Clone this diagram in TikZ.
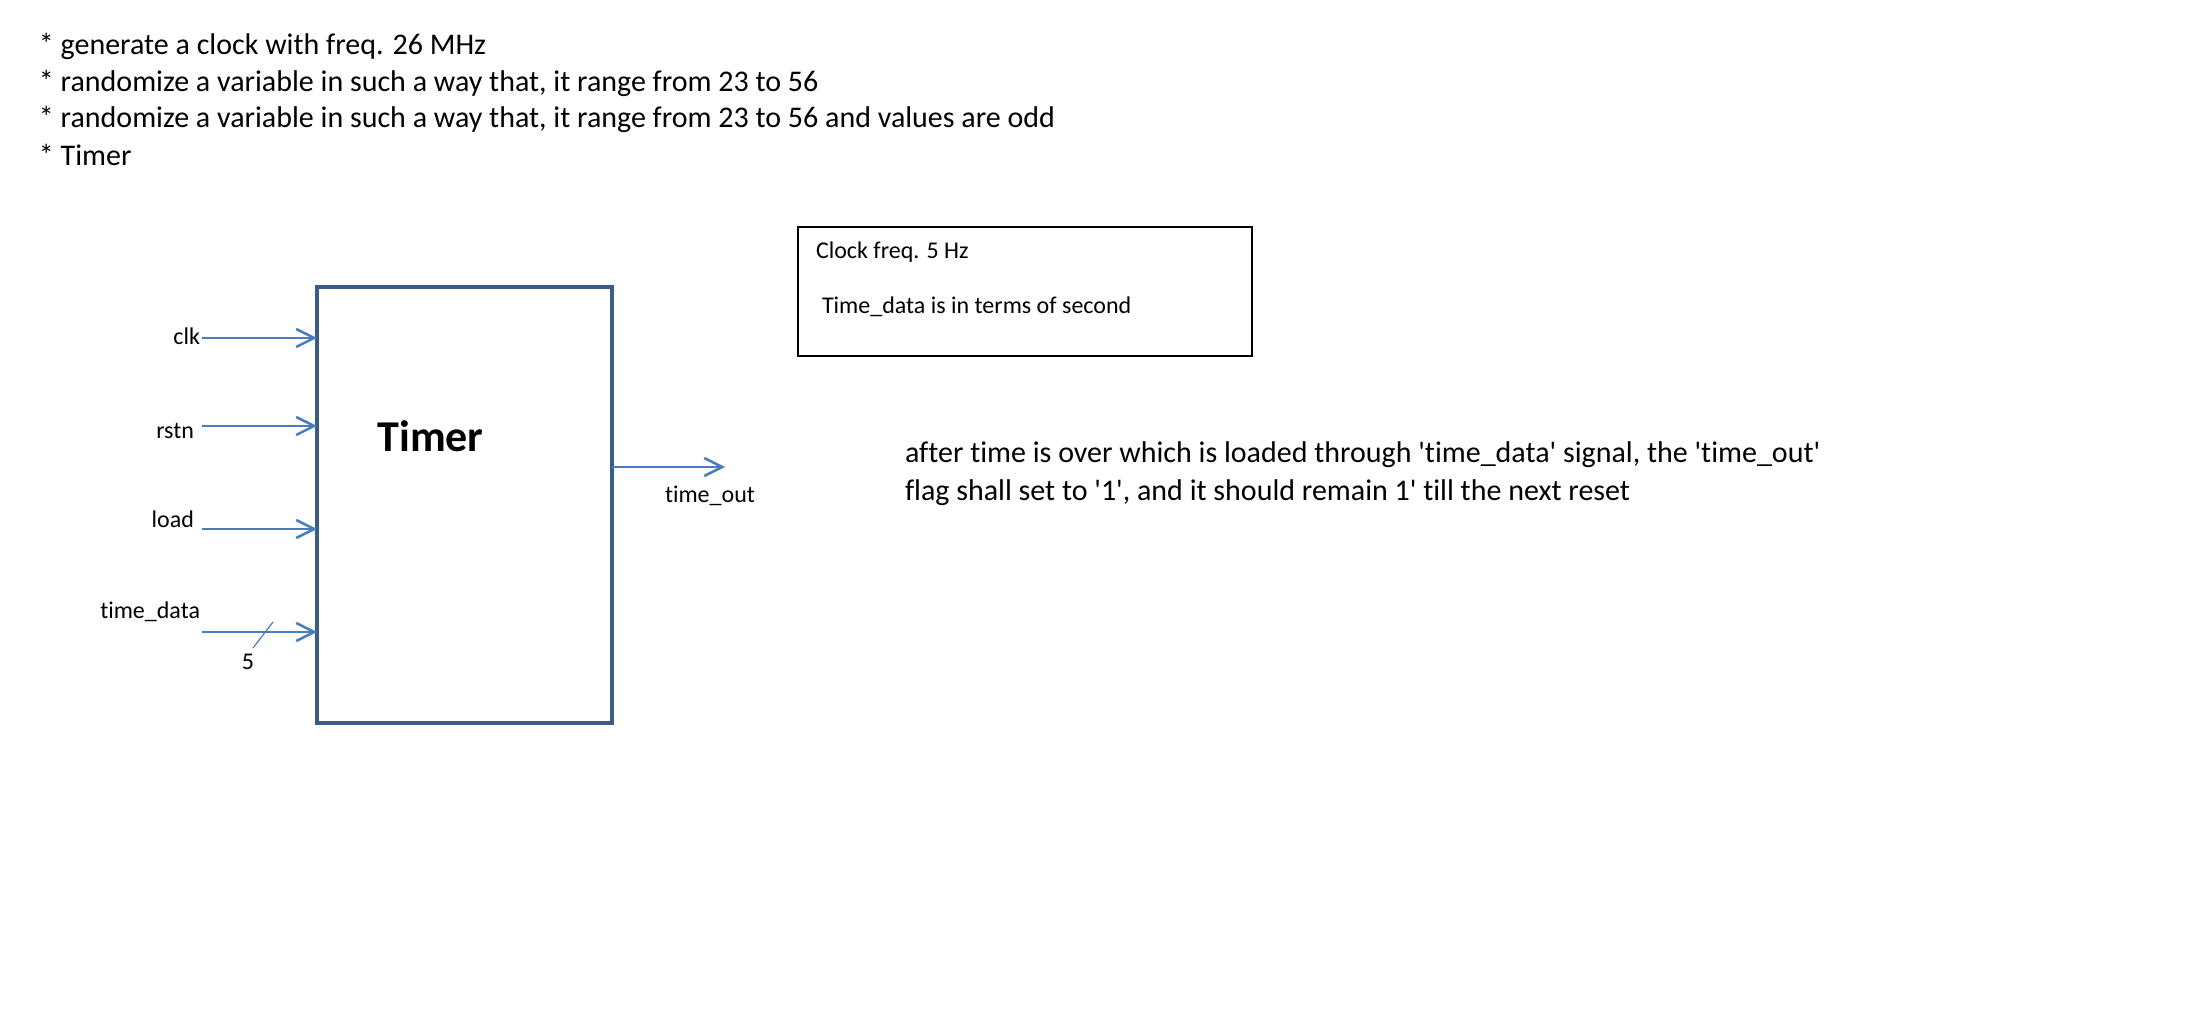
\documentclass[tikz,border=0pt]{standalone}
\usepackage{fontspec}
\setmainfont{Carlito}[Ligatures={TeXOff,NoCommon}]
\usetikzlibrary{arrows.meta}
\definecolor{wireblue}{HTML}{4A7EBB}
\definecolor{boxblue}{HTML}{385D8A}

\begin{document}
\begin{tikzpicture}[x=0.5pt, y=-0.5pt,
    every node/.style={inner sep=0pt, outer sep=0pt},
    wire/.style={draw=wireblue, line width=1.25pt, -{Straight Barb[length=9pt, width=9pt]}},
    txt/.style={font=\fontsize{15}{18}\selectfont, anchor=base west},
    note/.style={font=\fontsize{12}{14}\selectfont, anchor=base west},
    pin/.style={font=\fontsize{12}{14}\selectfont, anchor=base east}]
% page frame
\useasboundingbox (0,0) rectangle (2188,1036);

% task list
\foreach \i/\yy/\txt in {1/55/{* generate a clock with freq. 26 MHz},
    2/92/{* randomize a variable in such a way that, it range from 23 to 56},
    3/128/{* randomize a variable in such a way that, it range from 23 to 56 and values are odd},
    4/166/{* Timer}}
    \node[txt] (task\i) at (39,\yy) {\txt};

% timer block
\node[draw=boxblue, line width=1.65pt, minimum width=147.5pt, minimum height=218pt] (timer) at (464.5,505) {};
\node[font=\bfseries\fontsize{22}{26}\selectfont, anchor=base] (title) at (430.5,452) {Timer};

% set up input pins
\coordinate (clk) at (202,338);
\coordinate (rstn) at (202,426);
\coordinate (load) at (202,529);
\coordinate (tdata) at (202,632);

% draw input wires
\foreach \p in {clk, rstn, load, tdata}
    \draw[wire] (\p) -- (\p -| timer.west);

% pin labels
\node[pin] (clklabel) at (200,345) {clk};
\node[pin] (rstnlabel) at (194,439) {rstn};
\node[pin] (loadlabel) at (194,528) {load};
\node[pin] (tdatalabel) at (200,618) {time\_data};

% bus width mark
\coordinate (busA) at (253,648);
\coordinate (busB) at (273,622);
\draw[wireblue, line width=0.6pt] (busA) -- (busB);
\node[pin, anchor=base] (buswidth) at (248,669) {5};

% output wire
\coordinate (tout) at (725,467);
\draw[wire] (timer.east |- tout) -- (tout);
\node[pin, anchor=base west] (toutlabel) at (665,503) {time\_out};

% clock note
\node[draw, line width=1pt, minimum width=227pt, minimum height=64.5pt] (notebox) at (1025,291.5) {};
\node[note] (clknote) at (816,259) {Clock freq. 5 Hz};
\node[note] (datanote) at (822,314) {Time\_data is in terms of second};

% behaviour text
\node[txt] (desc1) at (905,463) {after time is over which is loaded through 'time\_data' signal, the 'time\_out'};
\node[txt] (desc2) at (905,501) {flag shall set to '1', and it should remain 1' till the next reset};

\end{tikzpicture}
\end{document}
